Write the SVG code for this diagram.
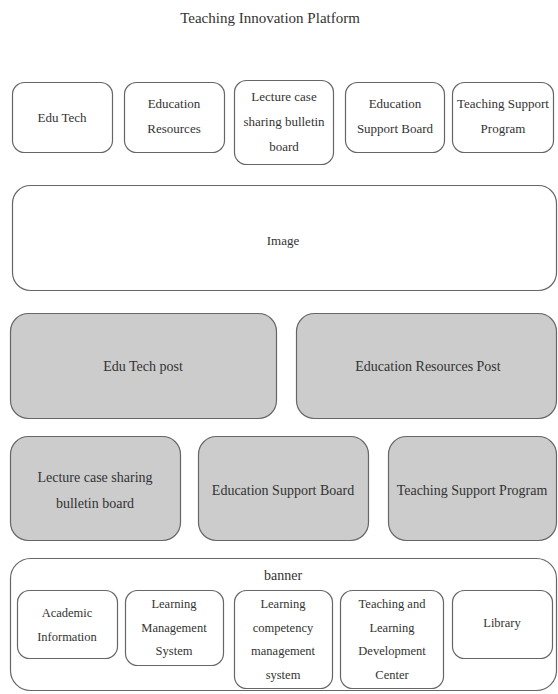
<svg xmlns="http://www.w3.org/2000/svg" width="558" height="694" viewBox="0 0 558 694">
<style>
text{font-family:"Liberation Serif","DejaVu Serif",serif;fill:#333;text-anchor:middle;dominant-baseline:central}
.w{fill:#fff;stroke:#666;stroke-width:1.2}
.g{fill:#cccccc;stroke:#666;stroke-width:1.2}
.t0{font-size:15px}
.t1{font-size:13px}
.t2{font-size:14px}
.t3{font-size:12.5px}
</style>
<rect width="558" height="694" fill="#fff"/>
<g id="title"><text x="270" y="18" class="t0">Teaching Innovation Platform</text></g>
<g id="n-edutech"><rect class="w" x="12.5" y="82.5" width="100" height="70" rx="12"/><text class="t1" x="62" y="117">Edu Tech</text></g>
<g id="n-eduresources"><rect class="w" x="124.5" y="82.5" width="100" height="70" rx="12"/><text class="t1" x="174" y="103">Education</text><text class="t1" x="174" y="128">Resources</text></g>
<g id="n-lecture"><rect class="w" x="234.5" y="80.5" width="99" height="84" rx="12"/><text class="t1" x="284" y="96">Lecture case</text><text class="t1" x="284" y="121">sharing bulletin</text><text class="t1" x="284" y="146">board</text></g>
<g id="n-edusupport"><rect class="w" x="345.5" y="82.5" width="99" height="70" rx="12"/><text class="t1" x="395" y="103">Education</text><text class="t1" x="395" y="128">Support Board</text></g>
<g id="n-teachsupport"><rect class="w" x="452.5" y="82.5" width="101" height="70" rx="12"/><text class="t1" x="503" y="103">Teaching Support</text><text class="t1" x="503" y="128">Program</text></g>
<g id="n-image"><rect class="w" x="12.5" y="185.5" width="544" height="105" rx="18"/><text class="t1" x="283" y="240">Image</text></g>
<g id="n-edutechpost"><rect class="g" x="10.5" y="313.5" width="266" height="105" rx="18"/><text class="t2" x="143" y="366">Edu Tech post</text></g>
<g id="n-eduresourcespost"><rect class="g" x="296.5" y="313.5" width="260" height="105" rx="18"/><text class="t2" x="428" y="366">Education Resources Post</text></g>
<g id="n-lecture2"><rect class="g" x="10.5" y="436.5" width="170" height="104" rx="18"/><text class="t2" x="95" y="477">Lecture case sharing</text><text class="t2" x="95" y="503">bulletin board</text></g>
<g id="n-edusupport2"><rect class="g" x="198.5" y="436.5" width="170" height="104" rx="18"/><text class="t2" x="283" y="490">Education Support Board</text></g>
<g id="n-teachsupport2"><rect class="g" x="388.5" y="436.5" width="168" height="104" rx="18"/><text class="t2" x="472" y="490">Teaching Support Program</text></g>
<g id="n-banner"><rect class="w" x="10.5" y="558.5" width="546" height="132" rx="20"/><text class="t2" x="283" y="575">banner</text></g>
<g id="n-academic"><rect class="w" x="17.5" y="590.5" width="100" height="68" rx="12"/><text class="t3" x="67" y="613">Academic</text><text class="t3" x="67" y="637">Information</text></g>
<g id="n-lms"><rect class="w" x="125.5" y="590.5" width="98" height="75" rx="12"/><text class="t3" x="174" y="604">Learning</text><text class="t3" x="174" y="628">Management</text><text class="t3" x="174" y="651">System</text></g>
<g id="n-lcms"><rect class="w" x="234.5" y="590.5" width="98" height="98" rx="12"/><text class="t3" x="283" y="604">Learning</text><text class="t3" x="283" y="628">competency</text><text class="t3" x="283" y="651">management</text><text class="t3" x="283" y="675">system</text></g>
<g id="n-tldc"><rect class="w" x="340.5" y="590.5" width="103" height="98" rx="12"/><text class="t3" x="392" y="604">Teaching and</text><text class="t3" x="392" y="628">Learning</text><text class="t3" x="392" y="651">Development</text><text class="t3" x="392" y="675">Center</text></g>
<g id="n-library"><rect class="w" x="452.5" y="590.5" width="100" height="68" rx="12"/><text class="t3" x="502" y="623">Library</text></g>
<g id="connectors"></g>
</svg>
